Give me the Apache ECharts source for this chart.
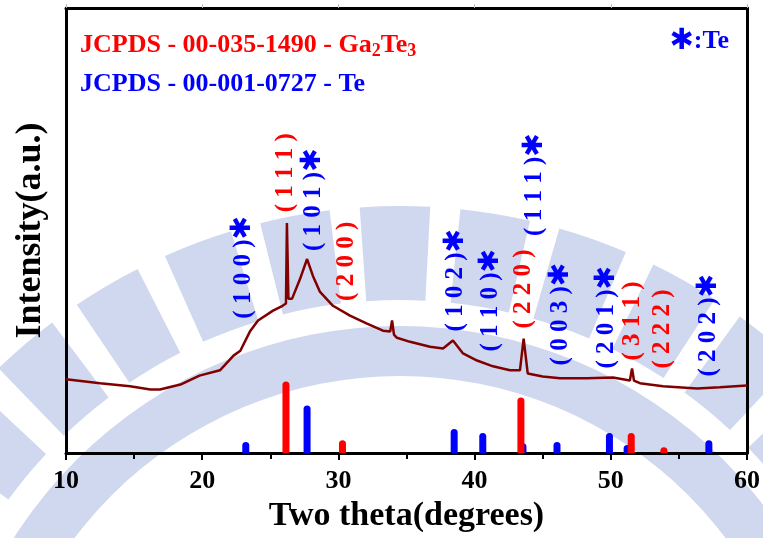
<!DOCTYPE html>
<html>
<head>
<meta charset="utf-8">
<script src="https://cdn.jsdelivr.net/npm/echarts@6/dist/echarts.min.js"></script>
<style>
  html, body { margin: 0; padding: 0; background: #fff; }
  #chart { width: 763px; height: 538px; }
</style>
</head>
<body>
<div id="chart"></div>
<script>
var twoTheta = [10.0, 12.5, 14.7, 16.2, 16.9, 18.4, 19.8, 21.3, 22.3, 22.8, 23.5, 24.1, 25.2, 25.9, 26.15, 26.22, 26.33, 26.6,
    27.18, 27.7, 28.13, 28.65, 29.6, 30.85, 32.1, 33.27, 33.8, 33.94, 34.08, 34.3, 35.26, 36.73, 37.68, 38.41, 39.15,
    40.18, 41.35, 42.6, 43.33, 43.6, 43.9, 45.0, 46.27, 48.25, 50.16, 51.4, 51.56, 51.7, 52.14, 53.83, 56.33, 58.0, 60.0];
var intensity = [16.6, 15.7, 15.0, 14.3, 14.3, 15.4, 17.4, 18.6, 21.9, 23.0, 27.3, 29.8, 32.0, 33.1, 33.6, 51.7, 34.7, 34.7,
    39.1, 43.6, 39.8, 36.2, 33.1, 30.9, 29.1, 27.5, 27.3, 29.8, 26.6, 25.9, 25.0, 23.9, 23.5, 25.3, 22.4,
    20.8, 19.5, 18.6, 18.6, 25.7, 17.9, 17.2, 16.8, 16.8, 17.0, 16.3, 19.0, 16.3, 15.7, 15.0, 14.5, 14.8, 15.2];

// reference sticks
var tePos = [23.2, 27.7, 38.5, 40.6, 43.55, 46.05, 49.9, 51.2, 57.2];
var teInt = [2.5, 10.7, 5.4, 4.5, 2.2, 2.5, 4.5, 1.8, 2.9];
var gaPos = [26.15, 30.3, 43.4, 51.5, 53.9];
var gaInt = [16.1, 2.9, 12.5, 4.5, 1.3];

// hkl labels
var hklText = ['100', '111', '101', '200', '102', '110', '220', '111', '003', '201', '311', '222', '202'];
var hklPhase = ['Te', 'Ga', 'Te', 'Ga', 'Te', 'Te', 'Ga', 'Te', 'Te', 'Te', 'Ga', 'Ga', 'Te'];
var hklPos = [23.0, 26.15, 28.14, 30.63, 38.63, 41.2, 43.63, 44.43, 46.34, 49.72, 51.56, 53.83, 57.2];
var hklY = [30.2, 54.1, 45.4, 34.2, 27.3, 22.8, 28.0, 48.8, 19.7, 19.0, 20.8, 19.0, 17.2];

var RED = '#ff0000', BLUE = '#0000ff', SERIF = '"Liberation Serif", "Times New Roman", serif';
var WM = '#cfd8ee';

function zip(a, b) {
    return a.map(function (v, i) { return [v, b[i]]; });
}

function stick(color) {
    return function (params, api) {
        var top = api.coord([api.value(0), api.value(1)]);
        var base = api.coord([api.value(0), 0]);
        return {
            type: 'rect',
            shape: { x: top[0] - 3.5, y: top[1], width: 7, height: base[1] - top[1], r: [3.5, 3.5, 0, 0] },
            style: { fill: color }
        };
    };
}

// faint logo watermark behind the plot
var watermark = [{
    type: 'ring', z: -10, silent: true,
    shape: { cx: 400, cy: 784, r: 458, r0: 408 },
    style: { fill: WM }
}];
for (var a = -184; a < 4; a += 10) {
    watermark.push({
        type: 'sector', z: -10, silent: true,
        shape: { cx: 400, cy: 784, r0: 484, r: 578, startAngle: a * Math.PI / 180, endAngle: (a + 7) * Math.PI / 180 },
        style: { fill: WM }
    });
}

var chart = echarts.init(document.getElementById('chart'));

chart.setOption({
    animation: false,
    grid: { left: 66, right: 16, top: 8, bottom: 83 },
    xAxis: [{
        type: 'value', min: 10, max: 60, interval: 10,
        name: 'Two theta(degrees)', nameLocation: 'middle', nameGap: 45,
        nameTextStyle: { fontFamily: SERIF, fontWeight: 'bold', fontSize: 34, color: '#000' },
        axisLine: { onZero: false, lineStyle: { color: '#000', width: 3 } },
        axisTick: { length: 7, lineStyle: { color: '#000', width: 2 } },
        minorTick: { show: true, splitNumber: 2, length: 6, lineStyle: { color: '#000', width: 2 } },
        axisLabel: { fontFamily: SERIF, fontWeight: 'bold', fontSize: 26, color: '#000', margin: 15 },
        splitLine: { show: false }
    }, {
        type: 'value', min: 10, max: 60, interval: 10, position: 'top',
        axisLine: { onZero: false, lineStyle: { color: '#000', width: 3 } },
        axisTick: { length: 4, lineStyle: { color: '#bbb', width: 1 } },
        axisLabel: { show: false },
        splitLine: { show: false }
    }],
    yAxis: [{
        type: 'value', min: 0, max: 100,
        name: 'Intensity(a.u.)', nameLocation: 'middle', nameGap: 17,
        nameTextStyle: { fontFamily: SERIF, fontWeight: 'bold', fontSize: 36, color: '#000' },
        axisLine: { show: true, onZero: false, lineStyle: { color: '#000', width: 3 } },
        axisTick: { show: false },
        axisLabel: { show: false },
        splitLine: { show: false }
    }, {
        type: 'value', min: 0, max: 100, position: 'right',
        axisLine: { show: true, onZero: false, lineStyle: { color: '#000', width: 3 } },
        axisTick: { show: false },
        axisLabel: { show: false },
        splitLine: { show: false }
    }],
    graphic: watermark.concat([{
        type: 'text', left: 80, top: 30,
        style: {
            text: '{m|JCPDS - 00-035-1490 - Ga}{s|2}{m|Te}{s|3}',
            rich: {
                m: { fontFamily: SERIF, fontWeight: 'bold', fontSize: 26, fill: RED, lineHeight: 30 },
                s: { fontFamily: SERIF, fontWeight: 'bold', fontSize: 18, fill: RED, lineHeight: 18, verticalAlign: 'bottom', padding: [12, 0, 0, 0] }
            }
        }
    }, {
        type: 'text', left: 80, top: 71,
        style: { text: 'JCPDS - 00-001-0727 - Te', fontFamily: SERIF, fontWeight: 'bold', fontSize: 26, fill: BLUE }
    }, {
        type: 'text', right: 34, top: 27,
        style: {
            text: '{s|✱}{m|:Te}',
            rich: {
                s: { fontFamily: 'DejaVu Sans', fontWeight: 'bold', fontSize: 29, fill: BLUE },
                m: { fontFamily: SERIF, fontWeight: 'bold', fontSize: 26, fill: BLUE }
            }
        }
    }]),
    series: [{
        type: 'line',
        data: zip(twoTheta, intensity),
        showSymbol: false,
        lineStyle: { color: '#800000', width: 2.5 },
        z: 3
    }, {
        type: 'custom',
        data: zip(tePos, teInt),
        renderItem: stick(BLUE),
        z: 2
    }, {
        type: 'custom',
        data: zip(gaPos, gaInt),
        renderItem: stick(RED),
        z: 2
    }, {
        type: 'custom',
        data: zip(hklPos, hklY),
        clip: false,
        z: 4,
        renderItem: function (params, api) {
            var i = params.dataIndex;
            var p = api.coord([api.value(0), api.value(1)]);
            var te = hklPhase[i] === 'Te';
            var label = '( ' + hklText[i].split('').join(' ') + ' )';
            return {
                type: 'text',
                x: p[0], y: p[1],
                rotation: Math.PI / 2,
                style: {
                    text: '{t|' + label + '}' + (te ? '{s|✱}' : ''),
                    align: 'left',
                    verticalAlign: 'middle',
                    rich: {
                        t: { fontFamily: SERIF, fontWeight: 'bold', fontSize: 25, fill: te ? BLUE : RED },
                        s: { fontFamily: 'DejaVu Sans', fontWeight: 'bold', fontSize: 28, fill: BLUE }
                    }
                }
            };
        }
    }]
});
</script>
</body>
</html>
